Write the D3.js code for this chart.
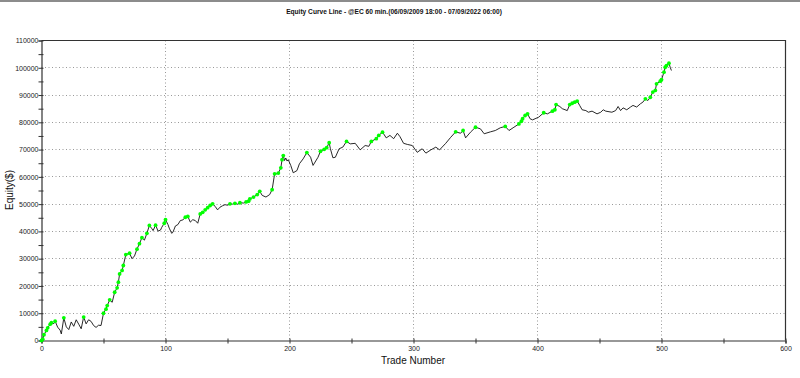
<!DOCTYPE html>
<html>
<head>
<meta charset="utf-8">
<script src="https://cdn.jsdelivr.net/npm/d3@7"></script>
<style>
  body { margin: 0; background: #fff; }
  svg { display: block; }
  .tick text { font-family: "Liberation Sans", Arial, sans-serif; font-size: 7px; fill: #222; }
</style>
</head>
<body>
<div class="canvas"></div>
<script>
// trade number / closed equity
var trades = [0,1,2,4,5,7,8,10,11,13,15,16,18,20,22,24,26,28,30,32,34,36,38,40,42,44,46,48,
  50,52,53,55,57,59,61,62,63,65,66,68,71,73,75,77,79,81,83,85,87,89,90,92,94,96,97,99,
  100,102,103,105,106,108,110,112,114,116,118,120,122,124,126,128,130,132,134,136,138,140,142,144,146,148,
  150,152,154,156,158,160,163,165,167,168,171,174,176,178,181,184,186,188,189,191,193,194,195,196,197,198,199,
  201,203,206,208,211,214,217,219,223,225,228,230,232,233,235,237,240,243,246,249,253,257,261,264,266,270,272,275,278,
  281,284,287,289,292,295,299,303,307,310,314,318,321,326,330,334,338,340,342,346,350,354,357,362,366,370,374,377,
  381,385,387,388,390,392,394,396,398,401,405,408,412,414,415,418,420,424,426,428,430,432,434,436,439,441,444,448,
  451,453,455,460,463,465,467,469,472,475,477,480,483,485,487,489,491,493,495,496,499,500,502,503,504,506,507,508,509];

var equity = [0,500,2100,3700,4650,6000,6500,6200,7100,4900,3800,2400,8300,5000,4000,6800,5200,7600,6000,4300,8600,6100,7600,7000,5500,4800,5600,5500,
  10000,11500,12800,14900,14000,17700,19300,21400,24400,25700,27500,31500,32000,30000,31000,33500,35500,37700,36800,39300,42200,41000,40300,42300,40100,40500,41500,43000,
  44300,42500,41200,39300,39700,42000,42500,44000,44200,45200,45500,43400,44300,44000,43000,46400,47000,47900,48700,49500,50100,49200,47900,48900,49400,49800,
  49600,50100,50000,50300,50000,50500,50400,50800,51100,51900,52600,53500,54700,53200,52600,53500,55300,61100,61000,61400,63300,66300,67800,66000,66900,65800,
  66300,64200,61500,62300,64800,66600,68900,67200,64200,67200,69400,70100,70700,72500,70300,67000,67200,70300,70900,73000,72100,72300,69900,71500,71200,73000,74000,75200,76400,
  74300,75200,74000,76000,74800,72300,71900,71500,69000,70300,68700,69900,70900,69900,72300,74500,76500,76000,77000,74300,76400,78200,77600,75800,76500,77000,78000,78500,
  77000,78200,79400,80400,81300,82500,83100,81300,80900,81300,81900,83500,83100,84100,84600,86500,85800,85000,84300,86500,87000,87400,87800,86200,84600,84300,83700,84100,
  83100,83700,84600,84100,83700,84300,85800,84300,85300,84600,85600,86200,85600,86800,87400,88600,88000,89200,91100,91700,94100,95100,95600,98400,100200,100800,101700,100200,99000];

var title = "Equity Curve Line - @EC 60 min.(06/09/2009 18:00 - 07/09/2022 06:00)";

const svgWidth = 800;
const svgHeight = 378;
const margin = {top: 40, right: 15, bottom: 38, left: 41};
const graphWidth = 744;
const graphHeight = 300;

const svg = d3.select('.canvas')
  .append('svg')
    .attr('width', svgWidth)
    .attr('height', svgHeight);

// grey strip along the top edge
svg.append('rect')
  .attr('x', 0).attr('y', 0)
  .attr('width', svgWidth).attr('height', 2)
  .attr('fill', '#8c8c8c');

svg.append('text')
  .attr('x', 394).attr('y', 14)
  .attr('text-anchor', 'middle')
  .style('font-family', '"Liberation Sans Narrow", "Liberation Sans", Arial, sans-serif')
  .style('font-size', '6.6px')
  .style('font-weight', 'bold')
  .attr('fill', '#111')
  .text(title);

const graph = svg.append('g')
  .attr('transform', `translate(${margin.left + 0.5},${margin.top + 0.5})`);

const x = d3.scaleLinear().domain([0, 600]).range([0, graphWidth]);
const y = d3.scaleLinear().domain([0, 110000]).range([graphHeight, 0]);

// dotted grid
graph.append('g')
  .selectAll('line')
  .data(d3.range(10000, 110000, 10000))
  .join('line')
    .attr('x1', 0).attr('x2', graphWidth)
    .attr('y1', d => Math.round(y(d))).attr('y2', d => Math.round(y(d)))
    .attr('stroke', '#999')
    .attr('stroke-dasharray', '1,2.5');

graph.append('g')
  .selectAll('line')
  .data(d3.range(100, 600, 100))
  .join('line')
    .attr('x1', d => Math.round(x(d))).attr('x2', d => Math.round(x(d)))
    .attr('y1', 0).attr('y2', graphHeight)
    .attr('stroke', '#999')
    .attr('stroke-dasharray', '1,2.5');

// frame (top + right)
graph.append('path')
  .attr('d', `M0,0H${graphWidth}V${graphHeight}`)
  .attr('fill', 'none')
  .attr('stroke', '#333')
  .attr('stroke-width', 1.2);

// axes
const xAxis = graph.append('g')
  .attr('transform', `translate(0,${graphHeight})`)
  .call(d3.axisBottom(x).tickValues(d3.range(0, 650, 50)).tickSize(3)
    .tickFormat(d => d % 100 === 0 ? d : ''));
xAxis.select('.domain').attr('stroke', '#333').attr('stroke-width', 1.2);
xAxis.selectAll('.tick line').attr('stroke', '#333').attr('y1', -2);
xAxis.selectAll('.tick text').attr('dy', '0.9em').attr('y', 4);

const yAxis = graph.append('g')
  .call(d3.axisLeft(y).tickValues(d3.range(0, 115000, 5000)).tickSize(3)
    .tickFormat(d => d % 10000 === 0 ? d : ''));
yAxis.select('.domain').attr('stroke', '#333').attr('stroke-width', 1.2);
yAxis.selectAll('.tick line').attr('stroke', '#333').attr('x1', 2);
yAxis.selectAll('.tick text').attr('x', -3);

// equity line
const line = d3.line()
  .x((d, i) => x(trades[i]))
  .y(d => y(d));

graph.append('path')
  .datum(equity)
  .attr('d', line)
  .attr('fill', 'none')
  .attr('stroke', '#111')
  .attr('stroke-width', 0.9);

// green markers on new equity highs
var runMax = -1;
var highs = [];
equity.forEach(function(v, i) {
  if (v >= runMax) { highs.push(i); runMax = v; }
});

graph.append('g')
  .selectAll('circle')
  .data(highs)
  .join('circle')
    .attr('cx', i => x(trades[i]))
    .attr('cy', i => y(equity[i]))
    .attr('r', 1.9)
    .attr('fill', '#00ff00');

// axis titles
svg.append('text')
  .attr('x', 413).attr('y', 364)
  .attr('text-anchor', 'middle')
  .style('font-family', '"Liberation Sans", Arial, sans-serif')
  .style('font-size', '10px')
  .attr('fill', '#111')
  .text('Trade Number');

svg.append('text')
  .attr('transform', 'translate(13,190) rotate(-90)')
  .attr('text-anchor', 'middle')
  .style('font-family', '"Liberation Sans", Arial, sans-serif')
  .style('font-size', '10px')
  .attr('fill', '#111')
  .text('Equity($)');
</script>
</body>
</html>
